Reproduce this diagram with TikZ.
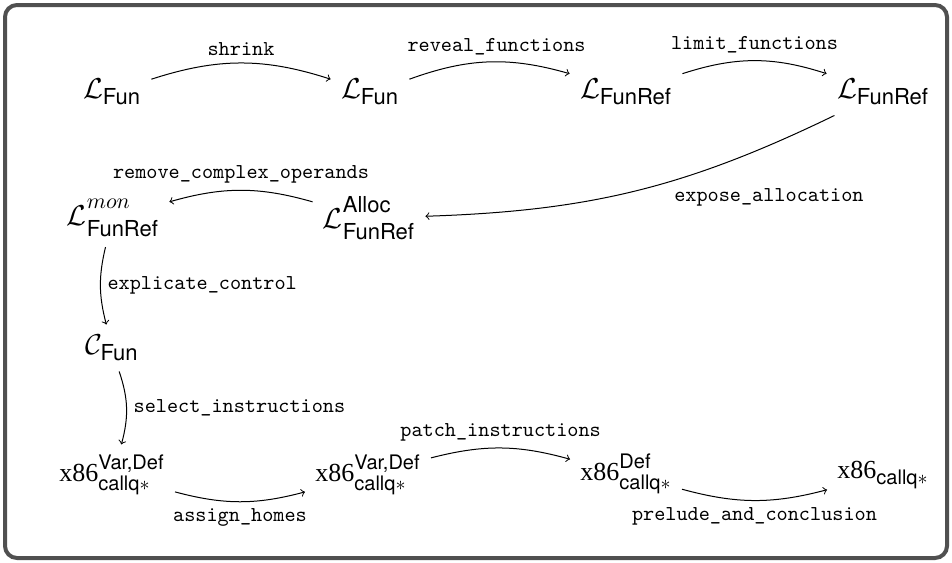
\documentclass[tikz,border=0pt]{standalone}
\usepackage{amsmath}
\usepackage{fontspec}
\setmainfont{Liberation Serif}
\setsansfont{TeX Gyre Heros}
\DeclareMathSizes{14}{14}{11}{8}
\DeclareMathSizes{13}{13}{10}{7}
\definecolor{framegray}{RGB}{80,80,80}
\newcommand\sfx[1]{\text{\sffamily #1}}
\newcommand\upx[1]{\text{\raisebox{1.5pt}{#1}}}
\newcommand\dnx[1]{\text{\raisebox{-1pt}{#1}}}
\newcommand\upl[1]{\text{\raisebox{3pt}{#1}}}
\newcommand\dnl[1]{\text{\raisebox{-2pt}{#1}}}
\begin{document}
\begin{tikzpicture}[x=0.5pt,y=0.5pt,
  lang/.style={inner sep=5pt, font=\fontsize{14}{16}\selectfont},
  xlang/.style={inner sep=5pt, font=\fontsize{13}{15}\selectfont},
  pass/.style={font=\fontsize{10.6}{12}\selectfont\ttfamily},
  arr/.style={->, line width=0.5pt}]
\useasboundingbox (0,0) rectangle (952,-562);
\draw[line width=2pt, color=framegray, rounded corners=6pt] (5,-5) rectangle (947,-558);

\node[lang] (lfun1) at (112,-92) {$\mathcal{L}_{\sfx{Fun}}$};
\node[lang] (lfun2) at (370,-92) {$\mathcal{L}_{\sfx{Fun}}$};
\node[lang] (lref1) at (626,-92) {$\mathcal{L}_{\sfx{FunRef}}$};
\node[lang] (lref2) at (883,-92) {$\mathcal{L}_{\sfx{FunRef}}$};
\node[lang] (alloc) at (369,-218) {$\mathcal{L}^{\upl{\sffamily Alloc}}_{\dnl{\sffamily FunRef}}$};
\node[lang] (mon) at (113,-218) {$\mathcal{L}^{\upl{$mon$}}_{\dnl{\sffamily FunRef}}$};
\node[lang] (cfun) at (112,-348) {$\mathcal{C}_{\sfx{Fun}}$};
\node[xlang] (xa) at (112,-475) {x86$^{\upx{\sffamily Var,Def}}_{\dnx{\sffamily callq$\ast$}}$};
\node[xlang] (xb) at (368,-475) {x86$^{\upx{\sffamily Var,Def}}_{\dnx{\sffamily callq$\ast$}}$};
\node[xlang] (xc) at (626,-474) {x86$^{\upx{\sffamily Def}}_{\dnx{\sffamily callq$\ast$}}$};
\node[xlang] (xd) at (883,-475) {x86$_{\sfx{callq}\ast}$};

\draw[arr] (lfun1) to[bend left=18] node[pass,above]{shrink} (lfun2);
\draw[arr] (lfun2) to[bend left=18] node[pass,above,pos=0.55]{reveal\_functions} (lref1);
\draw[arr] (lref1) to[bend left=18] node[pass,above]{limit\_functions} (lref2);
\draw[arr] (lref2) to[bend left=12] node[pass,pos=0.4,anchor=north west,inner sep=0pt,yshift=-4pt]{expose\_allocation} (alloc);
\draw[arr] (alloc) to[bend right=16] node[pass,above]{remove\_complex\_operands} (mon);
\draw[arr] (mon) to[bend right=14] node[pass,right]{explicate\_control} (cfun);
\draw[arr] (cfun) to[bend left=17] node[pass,right]{select\_instructions} (xa);
\draw[arr] (xa) to[bend right=15] node[pass,below]{assign\_homes} (xb);
\draw[arr] (xb) to[bend left=15] node[pass,above]{patch\_instructions} (xc);
\draw[arr] (xc) to[bend right=15] node[pass,below]{prelude\_and\_conclusion} (xd);
\end{tikzpicture}
\end{document}
